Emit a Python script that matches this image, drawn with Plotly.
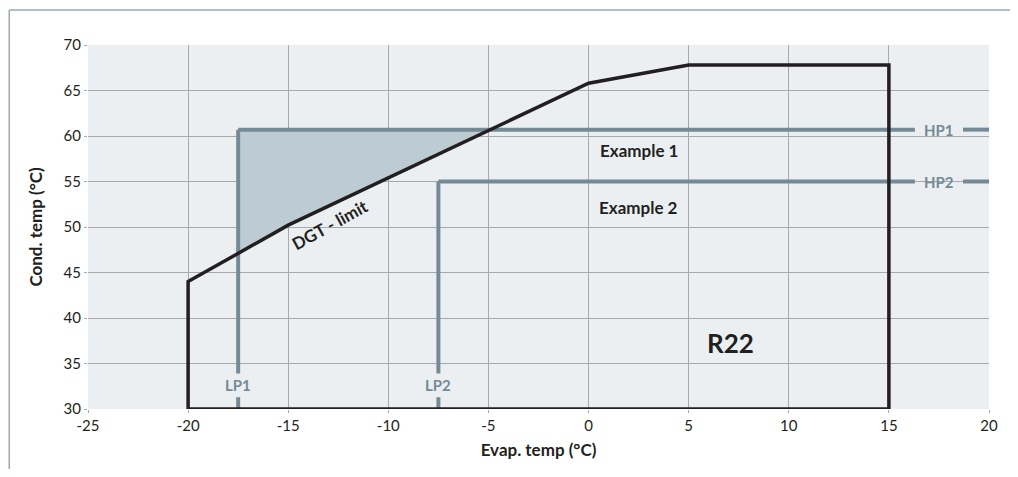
import numpy as np
import plotly.graph_objects as go

# operating envelope (R22)
envelope_evap = [-20, -20, -15, 0, 5, 15, 15, -20]
envelope_cond = [30, 44, 50.2, 65.8, 67.8, 67.8, 30, 30]

# example settings
lp_names = ["LP1", "LP2"]
lp_evap = [-17.5, -7.5]
hp_names = ["HP1", "HP2"]
hp_cond = [60.7, 55.0]
example_names = ["Example 1", "Example 2"]

x_ticks = [-25, -20, -15, -10, -5, 0, 5, 10, 15, 20]
y_ticks = [30, 35, 40, 45, 50, 55, 60, 65, 70]

DARK = "#231f20"
SLATE = "#758a96"
FONT = "Lato, Open Sans, sans-serif"

fig = go.Figure()

# shaded DGT zone: between LP1, HP1 and the DGT limit line
dgt_x = np.array(envelope_evap[1:4])
dgt_y = np.array(envelope_cond[1:4])
lp1, hp1 = lp_evap[0], hp_cond[0]
y_at_lp1 = np.interp(lp1, dgt_x, dgt_y)
x_at_hp1 = np.interp(hp1, dgt_y, dgt_x)
inner = [(x, y) for x, y in zip(dgt_x, dgt_y) if lp1 < x < x_at_hp1]
shade_x = [lp1, lp1, x_at_hp1] + [p[0] for p in inner[::-1]] + [lp1]
shade_y = [y_at_lp1, hp1, hp1] + [p[1] for p in inner[::-1]] + [y_at_lp1]
fig.add_trace(go.Scatter(x=shade_x, y=shade_y, mode="lines", fill="toself",
                         fillcolor="#bdcbd3", line=dict(width=0), hoverinfo="skip"))

# LP / HP lines with their labels set into a gap
for name, xv, hv in zip(lp_names, lp_evap, hp_cond):
    fig.add_trace(go.Scatter(x=[xv, xv, None, xv, xv], y=[hv, 33.9, None, 31.3, 30],
                             mode="lines", line=dict(color=SLATE, width=4), hoverinfo="skip"))
    fig.add_annotation(x=xv, y=32.6, text=f"<b>{name}</b>", showarrow=False,
                       font=dict(size=15, color=SLATE, family=FONT))
for name, xv, hv in zip(hp_names, lp_evap, hp_cond):
    fig.add_trace(go.Scatter(x=[xv, 16.3, None, 18.7, 20], y=[hv, hv, None, hv, hv],
                             mode="lines", line=dict(color=SLATE, width=4), hoverinfo="skip"))
    fig.add_annotation(x=17.5, y=hv, text=f"<b>{name}</b>", showarrow=False,
                       font=dict(size=15, color=SLATE, family=FONT))

# envelope
fig.add_trace(go.Scatter(x=envelope_evap, y=envelope_cond, mode="lines",
                         line=dict(color=DARK, width=3.5), hoverinfo="skip"))

for name, yv in zip(example_names, [58.4, 52.1]):
    fig.add_annotation(x=2.5, y=yv, text=f"<b>{name}</b>", showarrow=False,
                       font=dict(size=17, color=DARK, family=FONT))
fig.add_annotation(x=7.1, y=37.3, text="<b>R22</b>", showarrow=False,
                   font=dict(size=26, color=DARK, family=FONT))
fig.add_annotation(x=-12.9, y=50.3, text="<b>DGT - limit</b>", showarrow=False,
                   textangle=-29, font=dict(size=17, color=DARK, family=FONT))

# outer frame (top and left edges)
fig.add_shape(type="line", xref="paper", yref="paper", x0=-0.0874, x1=1.03, y0=1.0959, y1=1.0959,
              line=dict(color="#9aa9b2", width=1.5))
fig.add_shape(type="line", xref="paper", yref="paper", x0=-0.0874, x1=-0.0874, y0=1.0959, y1=-0.3,
              line=dict(color="#9aa9b2", width=1.5))

axis_common = dict(showgrid=True, gridcolor="#a7a9ac", gridwidth=1.3, zeroline=False,
                   showline=False, ticks="outside", ticklen=3, tickcolor="#a7a9ac",
                   tickfont=dict(size=15, color=DARK, family=FONT))
fig.update_xaxes(range=[-25, 20], tickvals=x_ticks, ticktext=[str(v) for v in x_ticks],
                 title=dict(text="<b>Evap. temp (°C)</b>", font=dict(size=17, color=DARK, family=FONT),
                            standoff=11), **axis_common)
fig.update_yaxes(range=[30, 70], tickvals=y_ticks, ticktext=[str(v) for v in y_ticks],
                 title=dict(text="<b>Cond. temp (°C)</b>", font=dict(size=17, color=DARK, family=FONT),
                            standoff=16), **axis_common)

# page has an 8px body margin, so the figure is sized to fit the 1018x477 window
fig.update_layout(width=1002, height=461, showlegend=False,
                  margin=dict(l=80, r=18, t=37, b=59),
                  plot_bgcolor="#ebeff2", paper_bgcolor="white")

fig.write_html("out.html")
